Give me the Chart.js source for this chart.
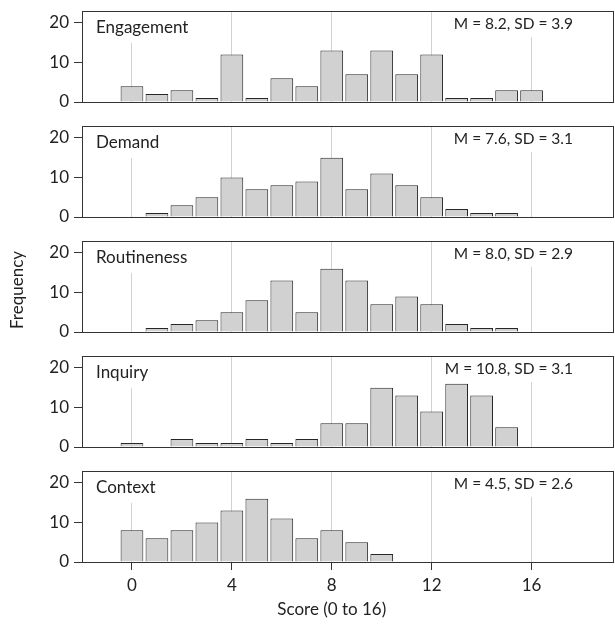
<!DOCTYPE html>
<html>
<head>
<meta charset="utf-8">
<script src="https://cdn.jsdelivr.net/npm/chart.js@4.4.1/dist/chart.umd.min.js"></script>
<style>
  html, body { margin: 0; padding: 0; background: #fff; overflow: hidden; }
  #wrap { position: relative; width: 615px; height: 628px; }
  canvas { position: absolute; left: 0; }
</style>
</head>
<body>
<div id="wrap"></div>
<script>
// scores 0..16
const scores = [0, 1, 2, 3, 4, 5, 6, 7, 8, 9, 10, 11, 12, 13, 14, 15, 16];
const xTicks = [0, 4, 8, 12, 16];
const yTicks = [0, 10, 20];

const panelNames = ["Engagement", "Demand", "Routineness", "Inquiry", "Context"];
const panelStats = ["M = 8.2, SD = 3.9", "M = 7.6, SD = 3.1", "M = 8.0, SD = 2.9", "M = 10.8, SD = 3.1", "M = 4.5, SD = 2.6"];

const engagement  = [4, 2, 3, 1, 12, 1, 6, 4, 13, 7, 13, 7, 12, 1, 1, 3, 3];
const demand      = [0, 1, 3, 5, 10, 7, 8, 9, 15, 7, 11, 8, 5, 2, 1, 1, 0];
const routineness = [0, 1, 2, 3, 5, 8, 13, 5, 16, 13, 7, 9, 7, 2, 1, 1, 0];
const inquiry     = [1, 0, 2, 1, 1, 2, 1, 2, 6, 6, 15, 13, 9, 16, 13, 5, 0];
const context     = [8, 6, 8, 10, 13, 16, 11, 6, 8, 5, 2, 0, 0, 0, 0, 0, 0];

const series = [engagement, demand, routineness, inquiry, context];

const FONT = "Lato, 'DejaVu Sans', sans-serif";
const INK = "#222";

const panelPlugin = {
    id: "panel",
    beforeDatasetsDraw(chart) {
        const o = chart.options.plugins.panel;
        const a = chart.chartArea;
        const ctx = chart.ctx;
        ctx.save();
        // white boxes behind the labels hide the grid lines
        ctx.font = "17px " + FONT;
        const tw = ctx.measureText(o.name).width;
        ctx.fillStyle = "#fff";
        ctx.fillRect(a.left + 8, a.top + 1, tw + 14, 31);
        ctx.font = "15.5px " + FONT;
        const sw = ctx.measureText(o.stat).width;
        ctx.fillRect(a.right - 41 - sw - 6, a.top + 1, sw + 38, 25);

        ctx.fillStyle = INK;
        ctx.textBaseline = "alphabetic";
        ctx.font = "17px " + FONT;
        ctx.textAlign = "left";
        ctx.fillText(o.name, a.left + 14, a.top + 22);
        ctx.font = "15.5px " + FONT;
        ctx.textAlign = "right";
        ctx.fillText(o.stat, a.right - 41, a.top + 18);
        ctx.restore();
    },
    afterDraw(chart) {
        const o = chart.options.plugins.panel;
        const a = chart.chartArea;
        const ctx = chart.ctx;
        ctx.save();
        ctx.strokeStyle = "#333";
        ctx.lineWidth = 1;
        ctx.strokeRect(a.left + 0.5, a.top + 0.5, a.right - a.left - 1, a.bottom - a.top);
        ctx.fillStyle = INK;
        ctx.font = "17px " + FONT;
        if (o.xTitle) {
            ctx.textAlign = "center";
            ctx.textBaseline = "middle";
            ctx.fillText(o.xTitle, chart.scales.x.getPixelForValue(8), 150);
        }
        if (o.yTitle) {
            ctx.translate(18, 60);
            ctx.rotate(-Math.PI / 2);
            ctx.textAlign = "center";
            ctx.textBaseline = "middle";
            ctx.fillText(o.yTitle, 0, 0);
        }
        ctx.restore();
    }
};

function makePanel(i) {
    const last = i === series.length - 1;
    const h = last ? 168 : 115;
    const canvas = document.createElement("canvas");
    canvas.width = 615;
    canvas.height = h;
    canvas.style.top = (115 * i) + "px";
    canvas.style.width = "615px";
    canvas.style.height = h + "px";
    document.getElementById("wrap").appendChild(canvas);

    new Chart(canvas.getContext("2d"), {
        type: "bar",
        data: {
            datasets: [{
                data: scores.map((s, j) => ({ x: s, y: series[i][j] })),
                backgroundColor: "#d0d1d0",
                borderColor: "#262626",
                borderWidth: 1,
                barPercentage: 0.91,
                categoryPercentage: 1
            }]
        },
        options: {
            responsive: false,
            animation: false,
            devicePixelRatio: 1,
            layout: { padding: { top: 11, right: 1, bottom: last ? 0 : 13, left: 0 } },
            plugins: {
                legend: { display: false },
                tooltip: { enabled: false },
                panel: {
                    name: panelNames[i],
                    stat: panelStats[i],
                    xTitle: last ? "Score (0 to 16)" : null,
                    yTitle: i === 2 ? "Frequency" : null
                }
            },
            scales: {
                x: {
                    type: "linear",
                    min: -2,
                    max: 19.3,
                    offset: false,
                    afterBuildTicks: s => { s.ticks = xTicks.map(v => ({ value: v })); },
                    afterFit: s => {
                        s.height = last ? 66 : 0;
                        s.paddingLeft = 0;
                        s.paddingRight = 0;
                    },
                    border: { display: false },
                    grid: {
                        offset: false,
                        color: "#d2d2d2",
                        lineWidth: 1,
                        drawTicks: last,
                        tickLength: 8,
                        tickColor: "#333"
                    },
                    ticks: {
                        display: last,
                        color: INK,
                        padding: 5,
                        maxRotation: 0,
                        font: { family: FONT, size: 17 }
                    }
                },
                y: {
                    min: 0,
                    max: 23,
                    afterBuildTicks: s => { s.ticks = yTicks.map(v => ({ value: v })); },
                    afterFit: s => {
                        s.width = 82;
                        s.paddingTop = 0;
                        s.paddingBottom = 0;
                    },
                    border: { display: false },
                    grid: {
                        drawOnChartArea: false,
                        drawTicks: true,
                        tickLength: 8,
                        tickColor: "#333"
                    },
                    ticks: {
                        color: INK,
                        padding: 5,
                        font: { family: FONT, size: 17 }
                    }
                }
            }
        },
        plugins: [panelPlugin]
    });
}

for (let i = 0; i < series.length; i++) {
    makePanel(i);
}
</script>
</body>
</html>
